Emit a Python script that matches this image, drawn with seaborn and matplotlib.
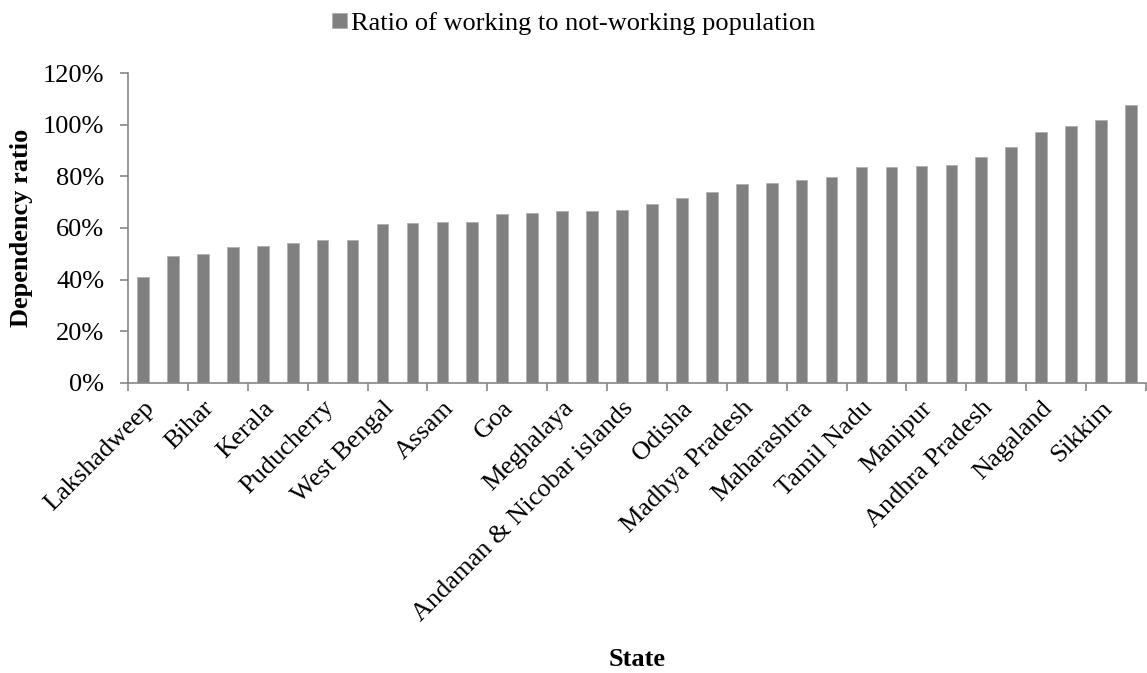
import pandas as pd
import matplotlib
matplotlib.use("Agg")
import matplotlib.pyplot as plt
import seaborn as sns

# ratio of working to not-working population, sorted ascending (34 states/UTs)
ratios = [40.9, 49.0, 49.9, 52.5, 53.2, 54.2, 55.2, 55.2, 61.4, 61.9,
          62.2, 62.2, 65.4, 65.7, 66.5, 66.5, 66.8, 69.3, 71.6, 73.8,
          76.9, 77.3, 78.6, 79.6, 83.7, 83.8, 84.1, 84.2, 87.4, 91.2,
          97.0, 99.5, 101.9, 107.6]

# only every second state is labelled on the axis
shown_states = ["Lakshadweep", "Bihar", "Kerala", "Puducherry", "West Bengal",
                "Assam", "Goa", "Meghalaya", "Andaman & Nicobar islands",
                "Odisha", "Madhya Pradesh", "Maharashtra", "Tamil Nadu",
                "Manipur", "Andhra Pradesh", "Nagaland", "Sikkim"]

y_ticks = [0, 20, 40, 60, 80, 100, 120]

series_name = "Ratio of working to not-working population"


def main():
    df = pd.DataFrame({"pos": range(len(ratios)), "ratio": ratios})

    sns.set_style("white")
    plt.rcParams["font.family"] = ["Liberation Serif", "DejaVu Serif"]
    plt.rcParams["text.color"] = "black"
    plt.rcParams["axes.labelcolor"] = "black"
    plt.rcParams["xtick.color"] = "black"
    plt.rcParams["ytick.color"] = "black"

    fig = plt.figure(figsize=(11.47, 6.73), dpi=100)
    ax = fig.add_axes([0.1116, 0.431, 0.8875, 0.4605])

    sns.barplot(data=df, x="pos", y="ratio", color="#808080", saturation=1,
                width=0.39, ax=ax, label=series_name, linewidth=0.6,
                edgecolor="#b0b0b0")

    ax.set_xlim(-0.5, len(ratios) - 0.5)
    ax.set_ylim(0, 120)
    ax.set_yticks(y_ticks)
    ax.set_yticklabels([f"{v}%" for v in y_ticks], fontsize=19)

    ax.set_xticks(range(0, len(ratios), 2))
    ax.set_xticklabels(shown_states, rotation=45, ha="right",
                       rotation_mode="anchor", fontsize=19)
    ax.set_xticks([i - 0.5 for i in range(0, len(ratios) + 1, 2)], minor=True)
    ax.tick_params(axis="x", which="major", bottom=True, length=0, pad=10,
                   labelcolor="black")
    ax.tick_params(axis="x", which="minor", bottom=True, length=6, width=1.2,
                   color="#868686", direction="out")
    ax.tick_params(axis="y", left=True, length=6, width=1.2, color="#868686",
                   direction="out", pad=11, labelcolor="black")

    sns.despine(ax=ax)
    for s in ["left", "bottom"]:
        ax.spines[s].set_color("#868686")
        ax.spines[s].set_linewidth(1.2)

    ax.set_xlabel("State", fontsize=19, fontweight="bold", color="black")
    ax.xaxis.set_label_coords(0.5, -0.855)
    ax.set_ylabel("Dependency ratio", fontsize=19, fontweight="bold",
                  color="black")
    ax.yaxis.set_label_coords(-0.093, 0.5)

    ax.legend(loc="upper center", bbox_to_anchor=(0.5, 1.0),
              bbox_transform=fig.transFigure, frameon=False, fontsize=19,
              handlelength=0.55, handleheight=0.55, handletextpad=0.15,
              borderaxespad=0.05, labelcolor="black")

    fig.savefig("out.png", dpi=100)


if __name__ == "__main__":
    main()
